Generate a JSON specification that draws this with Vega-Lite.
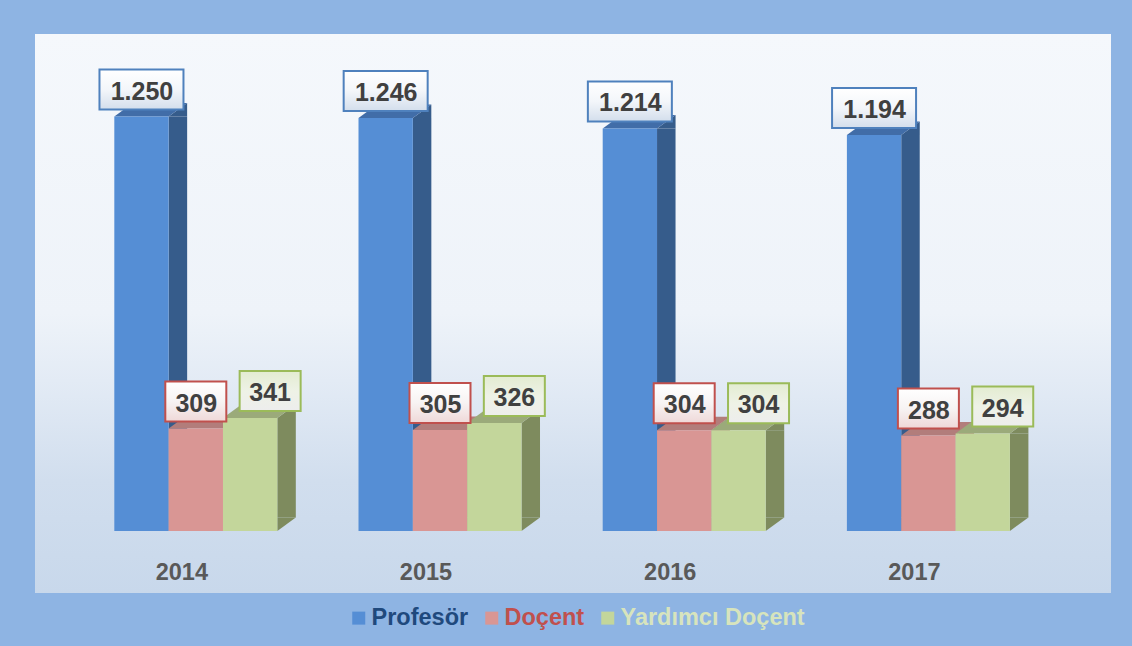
{
  "$schema": "https://vega.github.io/schema/vega-lite/v6.json",
  "width": 1076,
  "height": 559,
  "autosize": {"type": "none"},
  "padding": {"left": 35, "top": 34, "right": 21, "bottom": 53},
  "background": "#8EB4E3",
  "config": {
    "view": {"stroke": null},
    "font": "Liberation Sans",
    "locale": {"number": {"decimal": ",", "thousands": ".", "grouping": [3], "currency": ["", " ₺"]}}
  },
  "layer": [
    {
      "data": {"values": [{}]},
      "mark": {
        "type": "rect",
        "fill": {
          "gradient": "linear", "x1": 0, "y1": 0, "x2": 0, "y2": 1,
          "stops": [
            {"offset": 0, "color": "#F5F8FC"},
            {"offset": 0.5, "color": "#EEF3F9"},
            {"offset": 0.62, "color": "#E3EBF5"},
            {"offset": 0.8, "color": "#D1DEEE"},
            {"offset": 1, "color": "#C8D8EB"}
          ]
        }
      },
      "encoding": {
        "x": {"value": 0}, "x2": {"value": "width"},
        "y": {"value": 0}, "y2": {"value": "height"}
      }
    },
    {
      "data": {
        "values": [
          {"year": "2014", "series": "Profesör", "value": 1250},
          {"year": "2014", "series": "Doçent", "value": 309},
          {"year": "2014", "series": "Yardımcı Doçent", "value": 341},
          {"year": "2015", "series": "Profesör", "value": 1246},
          {"year": "2015", "series": "Doçent", "value": 305},
          {"year": "2015", "series": "Yardımcı Doçent", "value": 326},
          {"year": "2016", "series": "Profesör", "value": 1214},
          {"year": "2016", "series": "Doçent", "value": 304},
          {"year": "2016", "series": "Yardımcı Doçent", "value": 304},
          {"year": "2017", "series": "Profesör", "value": 1194},
          {"year": "2017", "series": "Doçent", "value": 288},
          {"year": "2017", "series": "Yardımcı Doçent", "value": 294}
        ]
      },
      "encoding": {
        "x": {
          "field": "year", "type": "nominal",
          "scale": {"domain": ["2014", "2015", "2016", "2017"], "paddingInner": 0.3325, "paddingOuter": 0.3694, "align": 0.4396},
          "axis": {
            "title": null, "orient": "bottom", "offset": -14, "domain": false, "ticks": false, "tickSize": 0,
            "labelPadding": 0, "labelBaseline": "alphabetic", "labelFontSize": 23.5, "labelFontWeight": "bold",
            "labelColor": "#595959", "labelOffset": -14, "labelAngle": 0, "grid": false, "zindex": 2
          }
        },
        "xOffset": {
          "field": "series", "type": "nominal",
          "scale": {"type": "band", "domain": ["Profesör", "Doçent", "Yardımcı Doçent"], "paddingInner": 0, "paddingOuter": 0}
        },
        "y": {
          "field": "value", "type": "quantitative",
          "scale": {"domain": [-187, 1499], "nice": false, "zero": false},
          "axis": null
        }
      },
      "resolve": {"scale": {"xOffset": "independent"}},
      "layer": [
        {
          "mark": {"type": "bar", "width": 18.5, "y2Offset": -13.5},
          "encoding": {
            "xOffset": {
              "field": "series", "type": "nominal",
              "scale": {"type": "band", "domain": ["Profesör", "Doçent", "Yardımcı Doçent"], "range": [36.42, 199.42], "paddingInner": 0, "paddingOuter": 0}
            },
            "y2": {"datum": 0},
            "fill": {
              "condition": [
                {"test": "datum.series === 'Profesör'", "value": "#365C8B"},
                {"test": "datum.series === 'Doçent'", "value": "#A26A68"}
              ],
              "value": "#7E8B5E"
            }
          }
        },
        {
          "mark": {"type": "point", "shape": "M27.17,0L45.67,-13.5L45.67,0Z", "size": 4, "filled": true, "opacity": 1, "strokeWidth": 0},
          "encoding": {
            "fill": {
              "condition": [
                {"test": "datum.series === 'Profesör'", "value": "#365C8B"},
                {"test": "datum.series === 'Doçent'", "value": "#A26A68"}
              ],
              "value": "#7E8B5E"
            }
          }
        },
        {
          "mark": {"type": "point", "shape": "M27.17,-13.5L27.17,0L45.67,-13.5Z", "size": 4, "filled": true, "opacity": 1, "strokeWidth": 0},
          "encoding": {
            "y": {"datum": 0},
            "fill": {
              "condition": [
                {"test": "datum.series === 'Profesör'", "value": "#365C8B"},
                {"test": "datum.series === 'Doçent'", "value": "#A26A68"}
              ],
              "value": "#7E8B5E"
            }
          }
        },
        {
          "mark": {"type": "point", "shape": "M-27.17,0L-8.67,-13.5L45.67,-13.5L27.17,0Z", "size": 4, "filled": true, "opacity": 1, "strokeWidth": 0},
          "encoding": {
            "fill": {
              "condition": [
                {"test": "datum.series === 'Profesör'", "value": "#416DA8"},
                {"test": "datum.series === 'Doçent'", "value": "#B27D7B"}
              ],
              "value": "#9BAA7A"
            }
          }
        },
        {
          "mark": {"type": "bar"},
          "encoding": {
            "y2": {"datum": 0},
            "color": {
              "field": "series", "type": "nominal",
              "scale": {"domain": ["Profesör", "Doçent", "Yardımcı Doçent"], "range": ["#558ED5", "#D99694", "#C3D69B"]},
              "legend": {
                "orient": "none", "legendX": 312, "legendY": 572, "direction": "horizontal", "title": null,
                "symbolType": "square", "symbolSize": 169, "symbolStrokeWidth": 0, "symbolOpacity": 1,
                "labelFontSize": 23.5, "labelFontWeight": "bold", "labelOffset": 1, "columnPadding": 11,
                "padding": 0, "labelLimit": 400,
                "encode": {
                  "labels": {
                    "update": {
                      "fill": {"signal": "datum.label === 'Profesör' ? '#1F497D' : datum.label === 'Doçent' ? '#C0504D' : '#D7E4BD'"}
                    }
                  }
                }
              }
            }
          }
        },
        {
          "transform": [{"filter": "datum.series === 'Profesör'"}],
          "mark": {
            "type": "bar", "width": 84, "yOffset": -47, "y2Offset": -7,
            "stroke": "#4F81BD", "strokeWidth": 2,
            "fill": {"gradient": "linear", "x1": 0, "y1": 0, "x2": 0, "y2": 1,
              "stops": [{"offset": 0, "color": "#FFFFFF"}, {"offset": 0.5, "color": "#F3F6FA"}, {"offset": 1, "color": "#D3DEEC"}]}
          },
          "encoding": {"y2": {"field": "value"}}
        },
        {
          "transform": [{"filter": "datum.series === 'Doçent'"}],
          "mark": {
            "type": "bar", "width": 61, "yOffset": -47, "y2Offset": -7,
            "stroke": "#C0504D", "strokeWidth": 2,
            "fill": {"gradient": "linear", "x1": 0, "y1": 0, "x2": 0, "y2": 1,
              "stops": [{"offset": 0, "color": "#FFFFFF"}, {"offset": 0.5, "color": "#F7F3F3"}, {"offset": 1, "color": "#EFD8D8"}]}
          },
          "encoding": {"y2": {"field": "value"}}
        },
        {
          "transform": [{"filter": "datum.series === 'Yardımcı Doçent'"}],
          "mark": {
            "type": "bar", "width": 61, "yOffset": -47, "y2Offset": -7,
            "stroke": "#9BBB59", "strokeWidth": 2,
            "fill": {"gradient": "linear", "x1": 0, "y1": 0, "x2": 0, "y2": 1,
              "stops": [{"offset": 0, "color": "#E3ECD1"}, {"offset": 0.5, "color": "#EEF2E6"}, {"offset": 1, "color": "#EDEDED"}]}
          },
          "encoding": {
            "xOffset": {
              "field": "series", "type": "nominal",
              "scale": {"type": "band", "domain": ["Profesör", "Doçent", "Yardımcı Doçent"], "range": [20, 183], "paddingInner": 0, "paddingOuter": 0}
            },
            "y2": {"field": "value"}
          }
        },
        {
          "transform": [{"filter": "datum.series !== 'Yardımcı Doçent'"}],
          "mark": {"type": "text", "fontSize": 25, "fontWeight": "bold", "fill": "#404040", "baseline": "alphabetic", "align": "center", "dy": -17, "dx": 0.5},
          "encoding": {"text": {"field": "value", "type": "quantitative", "format": ",d"}}
        },
        {
          "transform": [{"filter": "datum.series === 'Yardımcı Doçent'"}],
          "mark": {"type": "text", "fontSize": 25, "fontWeight": "bold", "fill": "#404040", "baseline": "alphabetic", "align": "center", "dy": -17, "dx": 20},
          "encoding": {"text": {"field": "value", "type": "quantitative", "format": ",d"}}
        }
      ]
    }
  ]
}
